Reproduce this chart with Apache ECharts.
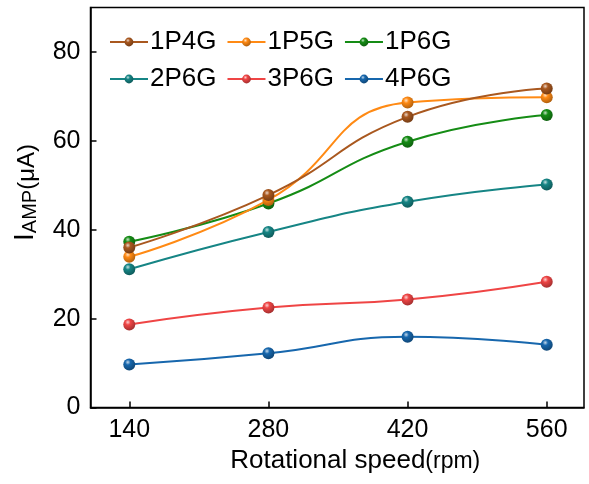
<!DOCTYPE html>
<html>
<head>
<meta charset="utf-8">
<script src="https://cdn.jsdelivr.net/npm/echarts@6/dist/echarts.min.js"></script>
<style>
  html, body { margin: 0; padding: 0; background: #fff; }
  #chart { width: 589px; height: 484px; }
</style>
</head>
<body>
<div id="chart"></div>
<script>
// Rotational speed (rpm) at which the current was measured
const speeds = [140, 280, 420, 560];
const speedTicks = [140, 280, 420, 560];
const currentTicks = [0, 20, 40, 60, 80];

// Amplified current I_AMP (µA) for each electrode configuration
const series1P4G = [36.0, 47.8, 65.4, 71.8];
const series1P5G = [33.9, 46.7, 68.6, 69.8];
const series1P6G = [37.3, 45.9, 59.8, 65.8];
const series2P6G = [31.1, 39.5, 46.3, 50.2];
const series3P6G = [18.7, 22.5, 24.3, 28.3];
const series4P6G = [9.7, 12.2, 15.9, 14.1];

const seriesNames = ['1P4G', '1P5G', '1P6G', '2P6G', '3P6G', '4P6G'];
const seriesValues = [series1P4G, series1P5G, series1P6G, series2P6G, series3P6G, series4P6G];
const seriesColors = ['#A9581F', '#FF8A14', '#158C15', '#168585', '#EF4545', '#1767AD'];

const FONT = '"Liberation Sans", Arial, sans-serif';

// shade a hex colour: k<0 darker, k>0 lighter
function shade(hex, k) {
  const n = parseInt(hex.slice(1), 16);
  let r = (n >> 16) & 255, g = (n >> 8) & 255, b = n & 255;
  const f = v => k < 0 ? Math.round(v * (1 + k)) : Math.round(v + (255 - v) * k);
  return 'rgb(' + f(r) + ',' + f(g) + ',' + f(b) + ')';
}

// glossy ball marker
function ball(color) {
  return {
    type: 'radial', x: 0.38, y: 0.32, r: 0.75,
    colorStops: [
      { offset: 0, color: shade(color, 0.75) },
      { offset: 0.3, color: color },
      { offset: 1, color: shade(color, -0.35) }
    ]
  };
}

const series = seriesNames.map((name, i) => ({
  name: name,
  type: 'line',
  smooth: 0.5,
  data: speeds.map((s, j) => [s, seriesValues[i][j]]),
  symbol: 'circle',
  symbolSize: 12,
  showSymbol: true,
  lineStyle: { color: seriesColors[i], width: 2 },
  itemStyle: { color: ball(seriesColors[i]), borderWidth: 0 },
  z: 10 - i
}));

function legendRow(names, top) {
  return {
    data: names.map(n => ({
      name: n,
      itemStyle: { color: ball(seriesColors[seriesNames.indexOf(n)]) },
      lineStyle: { color: seriesColors[seriesNames.indexOf(n)], width: 2 }
    })),
    left: 109, top: top, orient: 'horizontal', padding: 0,
    itemWidth: 38, itemHeight: 11, itemGap: 10,
    textStyle: { fontFamily: FONT, fontSize: 26, color: '#000', padding: [0, 0, 0, -3] },
    selectedMode: false
  };
}

const chart = echarts.init(document.getElementById('chart'), null, { renderer: 'canvas' });
chart.setOption({
  animation: false,
  backgroundColor: '#fff',
  grid: { left: 90.5, right: 5, top: 7.5, bottom: 76.5, show: true, borderColor: '#000', borderWidth: 1.5, containLabel: false },
  legend: [
    legendRow(['1P4G', '1P5G', '1P6G'], 29),
    legendRow(['2P6G', '3P6G', '4P6G'], 66)
  ],
  xAxis: {
    type: 'value', min: 101, max: 597.5,
    name: 'Rotational speed{s|(rpm)}',
    nameLocation: 'middle', nameGap: 37,
    nameTextStyle: {
      fontFamily: FONT, fontSize: 26, color: '#000', padding: [0, 0, 0, 36],
      rich: { s: { fontFamily: FONT, fontSize: 23, color: '#000', padding: [3, 0, 0, 0] } }
    },
    axisLine: { show: true, onZero: false, lineStyle: { color: '#000', width: 1.5 } },
    axisTick: { show: true, inside: true, length: 6, lineStyle: { color: '#000', width: 1.5 }, customValues: speedTicks },
    axisLabel: { fontFamily: FONT, fontSize: 25, color: '#000', margin: 10, customValues: speedTicks },
    splitLine: { show: false }
  },
  yAxis: {
    type: 'value', min: 0, max: 90,
    name: 'I{sub|AMP}{u|(μA)}',
    nameLocation: 'middle', nameGap: 50, nameRotate: 90,
    nameTextStyle: {
      fontFamily: FONT, fontSize: 28, color: '#000', padding: [0, 0, 0, 30],
      rich: {
        sub: { fontFamily: FONT, fontSize: 20, color: '#000', padding: [10, 0, 0, 0] },
        u: { fontFamily: FONT, fontSize: 24, color: '#000', padding: [3, 0, 0, 0] }
      }
    },
    axisLine: { show: true, lineStyle: { color: '#000', width: 1.5 } },
    axisTick: { show: true, inside: true, length: 6, lineStyle: { color: '#000', width: 1.5 }, customValues: currentTicks },
    axisLabel: { fontFamily: FONT, fontSize: 25, color: '#000', margin: 10, customValues: currentTicks },
    splitLine: { show: false }
  },
  series: series
});
</script>
</body>
</html>
